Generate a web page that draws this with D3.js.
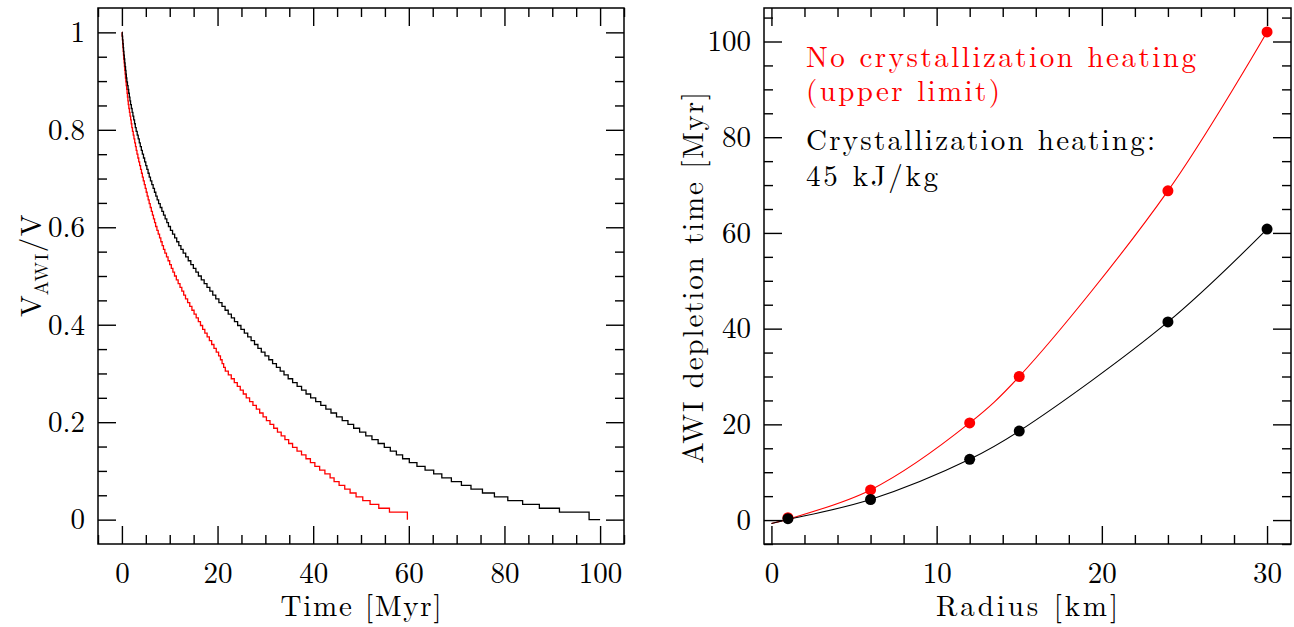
<!DOCTYPE html>
<html>
<head>
<meta charset="utf-8">
<script src="https://cdnjs.cloudflare.com/ajax/libs/d3/7.8.5/d3.min.js"></script>
<style>
  body { margin: 0; background: #fff; }
  svg { display: block; }
</style>
</head>
<body>
<svg id="chart" width="1294" height="627"></svg>
<script>
// ---- left panel: remaining AWI volume fraction, stepped in levels ----
const volumeLevels = [1, 0.9922, 0.9844, 0.9766, 0.9688, 0.9609, 0.9531, 0.9453, 0.9375, 0.9297, 0.9219, 0.9141, 0.9063,
  0.8984, 0.8906, 0.8828, 0.875, 0.8672, 0.8594, 0.8516, 0.8438, 0.8359, 0.8281, 0.8203, 0.8125, 0.8047,
  0.7969, 0.7891, 0.7813, 0.7734, 0.7656, 0.7578, 0.75, 0.7422, 0.7344, 0.7266, 0.7188, 0.7109, 0.7031,
  0.6953, 0.6875, 0.6797, 0.6719, 0.6641, 0.6563, 0.6484, 0.6406, 0.6328, 0.625, 0.6172, 0.6094, 0.6016,
  0.5938, 0.5859, 0.5781, 0.5703, 0.5625, 0.5547, 0.5469, 0.5391, 0.5313, 0.5234, 0.5156, 0.5078, 0.5,
  0.4922, 0.4844, 0.4766, 0.4688, 0.4609, 0.4531, 0.4453, 0.4375, 0.4297, 0.4219, 0.4141, 0.4063, 0.3984,
  0.3906, 0.3828, 0.375, 0.3672, 0.3594, 0.3516, 0.3438, 0.3359, 0.3281, 0.3203, 0.3125, 0.3047, 0.2969,
  0.2891, 0.2813, 0.2734, 0.2656, 0.2578, 0.25, 0.2422, 0.2344, 0.2266, 0.2188, 0.2109, 0.2031, 0.1953,
  0.1875, 0.1797, 0.1719, 0.1641, 0.1563, 0.1484, 0.1406, 0.1328, 0.125, 0.1172, 0.1094, 0.1016, 0.0938,
  0.0859, 0.0781, 0.0703, 0.0625, 0.0547, 0.0469, 0.0391, 0.0313, 0.0234, 0.0156, 0];

// time (Myr) at which each level is reached, with crystallization heating (black)
const heatTime = [0, 0.07, 0.14, 0.21, 0.28, 0.35, 0.42, 0.50, 0.59, 0.67, 0.76, 0.85, 0.93,
  1.03, 1.16, 1.29, 1.42, 1.55, 1.68, 1.81, 1.97, 2.14, 2.30, 2.47, 2.64, 2.80,
  2.98, 3.20, 3.41, 3.63, 3.84, 4.06, 4.27, 4.51, 4.75, 4.99, 5.22, 5.47, 5.71,
  5.97, 6.25, 6.53, 6.81, 7.09, 7.37, 7.67, 8.01, 8.36, 8.70, 9.04, 9.39, 9.73,
  10.15, 10.59, 11.03, 11.46, 11.90, 12.34, 12.81, 13.34, 13.87, 14.41, 14.94, 15.47, 16.00,
  16.60, 17.20, 17.79, 18.39, 19.00, 19.63, 20.28, 20.93, 21.58, 22.23, 22.89, 23.54, 24.20,
  24.89, 25.60, 26.31, 27.02, 27.73, 28.44, 29.15, 29.92, 30.72, 31.51, 32.31, 33.10, 33.90,
  34.77, 35.70, 36.64, 37.57, 38.51, 39.47, 40.53, 41.59, 42.65, 43.72, 44.88, 46.07, 47.27,
  48.46, 49.71, 51.00, 52.29, 53.58, 54.87, 56.13, 57.40, 58.70, 60.10, 61.70, 63.40, 65.20,
  66.90, 68.90, 71.00, 73.00, 75.40, 77.90, 80.70, 83.80, 87.30, 91.50, 97.70];
const heatEndTime = 100.0;

// without crystallization heating (red)
const noHeatTime = [0, 0.05, 0.11, 0.16, 0.22, 0.27, 0.33, 0.39, 0.46, 0.53, 0.60, 0.67, 0.74,
  0.82, 0.90, 0.99, 1.08, 1.16, 1.25, 1.33, 1.45, 1.58, 1.70, 1.83, 1.95, 2.07,
  2.21, 2.37, 2.52, 2.68, 2.84, 2.99, 3.15, 3.34, 3.52, 3.71, 3.90, 4.09, 4.28,
  4.47, 4.68, 4.88, 5.08, 5.28, 5.49, 5.70, 5.92, 6.15, 6.38, 6.60, 6.83, 7.05,
  7.32, 7.59, 7.87, 8.14, 8.41, 8.69, 8.98, 9.32, 9.65, 9.99, 10.33, 10.66, 11.00,
  11.38, 11.76, 12.15, 12.53, 12.92, 13.30, 13.74, 14.19, 14.64, 15.09, 15.53, 15.98, 16.43,
  16.88, 17.34, 17.82, 18.29, 18.77, 19.25, 19.73, 20.22, 20.61, 20.95, 21.28, 21.62, 22.25,
  22.87, 23.50, 24.13, 24.75, 25.38, 26.00, 26.70, 27.40, 28.11, 28.81, 29.52, 30.22, 30.97,
  31.75, 32.53, 33.31, 34.09, 34.87, 35.69, 36.62, 37.56, 38.49, 39.42, 40.35, 41.35, 42.45,
  43.54, 44.37, 45.42, 46.60, 47.72, 48.97, 50.37, 51.90, 53.72, 55.95, 59.70];

const timeTicks = [0, 20, 40, 60, 80, 100];
const fracTicks = [0, 0.2, 0.4, 0.6, 0.8, 1];

// ---- right panel: AWI depletion time vs radius ----
const radiusKm = [1, 6, 12, 15, 24, 30];
const depletionNoHeat = [0.5, 6.3, 20.3, 30.0, 68.8, 102.0];
const depletionHeat = [0.3, 4.3, 12.7, 18.6, 41.4, 60.8];
// fitted curves, starting at r = 0
const fitRadius = [0, 1, 6, 12, 15, 24, 30];
const fitNoHeat = [-0.7, 0.2, 6.3, 20.3, 30.0, 68.8, 102.0];
const fitHeat = [-0.7, 0.1, 4.3, 12.7, 18.6, 41.4, 60.8];

const radiusTicks = [0, 10, 20, 30];
const depletionTicks = [0, 20, 40, 60, 80, 100];

const RED = '#ff0000';
const FONT = "'Latin Modern Roman', 'Liberation Serif', serif";
const FS = 29;

// touch the font once so it is ready before the picture is taken
const probe = document.createElement('canvas').getContext('2d');
probe.font = `${FS}px ${FONT}`;
probe.measureText('Time [Myr] 0.8');

const svg = d3.select('#chart');

function frame(x, y, xMajor, xMinor, yMajor, yMinor, yFmt) {
  const [x0, x1] = x.range();
  const [y0, y1] = y.range();
  const g = svg.append('g');

  const tidy = sel => {
    sel.attr('font-family', null).attr('font-size', null);
    sel.select('.domain').remove();
    sel.selectAll('line').attr('stroke', '#000').attr('stroke-width', 1.4);
    sel.selectAll('text').style('font-family', FONT).attr('font-size', FS).attr('fill', '#000');
  };

  // bottom
  g.append('g').attr('transform', `translate(0,${y0})`)
    .call(d3.axisBottom(x).tickValues(xMajor).tickSize(-18).tickPadding(18).tickFormat(d3.format('d')))
    .call(tidy);
  g.append('g').attr('transform', `translate(0,${y0})`)
    .call(d3.axisBottom(x).tickValues(xMinor).tickSize(-9).tickFormat(''))
    .call(tidy);
  // top
  g.append('g').attr('transform', `translate(0,${y1})`)
    .call(d3.axisTop(x).tickValues(xMajor).tickSize(-18).tickFormat(''))
    .call(tidy);
  g.append('g').attr('transform', `translate(0,${y1})`)
    .call(d3.axisTop(x).tickValues(xMinor).tickSize(-9).tickFormat(''))
    .call(tidy);
  // left
  g.append('g').attr('transform', `translate(${x0},0)`)
    .call(d3.axisLeft(y).tickValues(yMajor).tickSize(-18).tickPadding(13).tickFormat(yFmt))
    .call(tidy);
  g.append('g').attr('transform', `translate(${x0},0)`)
    .call(d3.axisLeft(y).tickValues(yMinor).tickSize(-9).tickFormat(''))
    .call(tidy);
  // right
  g.append('g').attr('transform', `translate(${x1},0)`)
    .call(d3.axisRight(y).tickValues(yMajor).tickSize(-18).tickFormat(''))
    .call(tidy);
  g.append('g').attr('transform', `translate(${x1},0)`)
    .call(d3.axisRight(y).tickValues(yMinor).tickSize(-9).tickFormat(''))
    .call(tidy);

  g.append('rect')
    .attr('x', x0).attr('y', y1)
    .attr('width', x1 - x0).attr('height', y0 - y1)
    .attr('fill', 'none').attr('stroke', '#000').attr('stroke-width', 1.5);
}

function label(x, y, txt, width, rotate) {
  return svg.append('text')
    .attr('transform', `translate(${x},${y})` + (rotate ? ' rotate(-90)' : ''))
    .attr('text-anchor', 'middle')
    .style('font-family', FONT)
    .attr('font-size', FS)
    .attr('textLength', width).attr('lengthAdjust', 'spacing')
    .text(txt);
}

// ===== left panel =====
const xL = d3.scaleLinear().domain([-5, 105]).range([98, 624]);
const yL = d3.scaleLinear().domain([-0.05, 1.05]).range([544, 8]);

const step = d3.line()
  .x(d => xL(d[0]))
  .y(d => yL(d[1]))
  .curve(d3.curveStepAfter);

const noHeatPts = noHeatTime.map((t, i) => [t, volumeLevels[i]]);
const heatPts = heatTime.map((t, i) => [t, volumeLevels[i]]);
heatPts.push([heatEndTime, 0]);

svg.append('path').datum(noHeatPts)
  .attr('d', step).attr('fill', 'none')
  .attr('stroke', RED).attr('stroke-width', 1.3);
svg.append('path').datum(heatPts)
  .attr('d', step).attr('fill', 'none')
  .attr('stroke', '#000').attr('stroke-width', 1.3);

frame(xL, yL, timeTicks, d3.range(-5, 106, 5).filter(v => v % 20 !== 0),
  fracTicks, d3.range(0, 1.05, 0.05).filter((v, i) => i % 4 !== 0),
  d => d === 0 || d === 1 ? d3.format('d')(d) : d3.format('.1f')(d));

label(361, 616, 'Time [Myr]', 161, false);

// y label V_AWI / V
const yLab = svg.append('text')
  .attr('transform', 'translate(41,265) rotate(-90)')
  .attr('text-anchor', 'middle')
  .style('font-family', FONT)
  .attr('font-size', FS);
yLab.append('tspan').text('V');
yLab.append('tspan').attr('font-size', 19).attr('dy', 7).attr('letter-spacing', 1.5).text('AWI');
yLab.append('tspan').attr('dy', -7).attr('letter-spacing', 1.5).text('/V');

// ===== right panel =====
const xR = d3.scaleLinear().domain([-0.45, 31.45]).range([764, 1291]);
const yR = d3.scaleLinear().domain([-5, 107]).range([544, 8]);

const fit = d3.line()
  .x(d => xR(d[0]))
  .y(d => yR(d[1]))
  .curve(d3.curveCatmullRom.alpha(0.5));

svg.append('path').datum(fitRadius.map((r, i) => [r, fitNoHeat[i]]))
  .attr('d', fit).attr('fill', 'none').attr('stroke', RED).attr('stroke-width', 1.1);
svg.append('path').datum(fitRadius.map((r, i) => [r, fitHeat[i]]))
  .attr('d', fit).attr('fill', 'none').attr('stroke', '#000').attr('stroke-width', 1.1);

svg.append('g').selectAll('circle')
  .data(radiusKm.map((r, i) => [r, depletionNoHeat[i]]))
  .enter().append('circle')
  .attr('cx', d => xR(d[0])).attr('cy', d => yR(d[1]))
  .attr('r', 5.5).attr('fill', RED);
svg.append('g').selectAll('circle')
  .data(radiusKm.map((r, i) => [r, depletionHeat[i]]))
  .enter().append('circle')
  .attr('cx', d => xR(d[0])).attr('cy', d => yR(d[1]))
  .attr('r', 5.5).attr('fill', '#000');

frame(xR, yR, radiusTicks, d3.range(0, 32, 2).filter(v => v % 10 !== 0),
  depletionTicks, d3.range(-5, 107, 5).filter(v => v % 20 !== 0),
  d3.format('d'));

label(1027, 616, 'Radius [km]', 182, false);
label(703, 278, 'AWI depletion time [Myr]', 372, true);

// annotations
const notes = [
  { text: 'No crystallization heating', y: 67, color: RED, width: 390 },
  { text: '(upper limit)', y: 101, color: RED, width: 194 },
  { text: 'Crystallization heating:', y: 150, color: '#000', width: 349 },
  { text: '45 kJ/kg', y: 186, color: '#000', width: 132 }
];
svg.append('g').selectAll('text')
  .data(notes)
  .enter().append('text')
  .attr('x', 806).attr('y', d => d.y)
  .attr('fill', d => d.color)
  .style('font-family', FONT)
  .attr('font-size', FS)
  .attr('textLength', d => d.width).attr('lengthAdjust', 'spacing')
  .text(d => d.text);
</script>
</body>
</html>
